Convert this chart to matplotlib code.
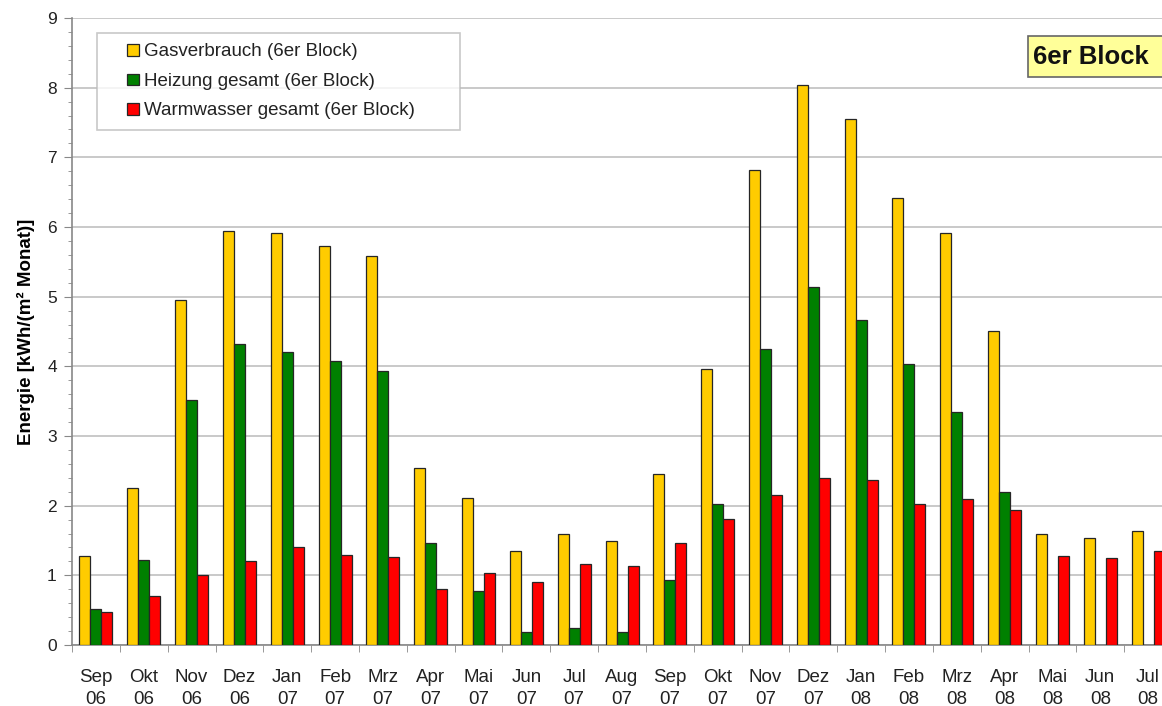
import numpy as np
import matplotlib
matplotlib.use("Agg")
import matplotlib.pyplot as plt
from matplotlib.patches import Rectangle
from matplotlib.container import BarContainer
from matplotlib.legend_handler import HandlerPatch
from matplotlib.ticker import MultipleLocator, FixedLocator

# ===============================
# Daten
# ===============================
monate = ["Sep\n06", "Okt\n06", "Nov\n06", "Dez\n06", "Jan\n07", "Feb\n07",
          "Mrz\n07", "Apr\n07", "Mai\n07", "Jun\n07", "Jul\n07", "Aug\n07",
          "Sep\n07", "Okt\n07", "Nov\n07", "Dez\n07", "Jan\n08", "Feb\n08",
          "Mrz\n08", "Apr\n08", "Mai\n08", "Jun\n08", "Jul\n08"]

gasverbrauch = [1.28, 2.26, 4.95, 5.94, 5.91, 5.73, 5.59, 2.54, 2.11, 1.35,
                1.60, 1.49, 2.45, 3.96, 6.82, 8.04, 7.55, 6.42, 5.91, 4.51,
                1.59, 1.53, 1.63]

heizung = [0.52, 1.22, 3.52, 4.32, 4.20, 4.08, 3.93, 1.46, 0.77, 0.18,
           0.24, 0.18, 0.93, 2.02, 4.25, 5.14, 4.66, 4.04, 3.34, 2.19,
           0.0, 0.0, 0.0]

warmwasser = [0.47, 0.71, 1.00, 1.21, 1.41, 1.29, 1.27, 0.80, 1.04, 0.91,
              1.16, 1.13, 1.46, 1.81, 2.15, 2.40, 2.37, 2.02, 2.09, 1.94,
              1.28, 1.25, 1.35]

serien = ["Gasverbrauch (6er Block)", "Heizung gesamt (6er Block)",
          "Warmwasser gesamt (6er Block)"]
farben = ["#FFCC00", "#008000", "#FF0000"]

plt.rcParams["font.family"] = ["Liberation Sans", "DejaVu Sans"]


# kleines Quadrat rechts im Legendenfeld (Excel-Stil)
def quadrat(legend, orig_handle, xdescent, ydescent, width, height, fontsize):
    s = 0.62 * fontsize
    return Rectangle((-xdescent + width - s, -ydescent + (height - s) / 2), s, s)


def erstes_element(handle, orig):
    handle.update_from(orig[0])


# ===============================
# Grafik
# ===============================
fig = plt.figure(figsize=(11.62, 7.06), dpi=100)
ax = fig.add_axes([0.062, 0.0864, 1.0086 - 0.062, 0.9745 - 0.0864])

x = np.arange(len(monate))
breite = 0.23
for i, (werte, name, farbe) in enumerate(zip([gasverbrauch, heizung, warmwasser],
                                              serien, farben)):
    ax.bar(x + (i - 1) * breite, werte, width=breite, color=farbe,
           edgecolor="#262626", linewidth=0.9, label=name, zorder=3)

ax.set_xlim(-0.5, len(monate) - 0.5)
ax.set_ylim(0, 9)

ax.yaxis.set_major_locator(MultipleLocator(1))
ax.yaxis.set_minor_locator(MultipleLocator(0.2))
ax.grid(axis="y", which="major", color="#c0c0c0", linewidth=1.2, zorder=0)

ax.set_xticks(x)
ax.set_xticklabels(monate, fontsize=13.5, color="#222222", linespacing=1.4)
ax.xaxis.set_minor_locator(FixedLocator(np.arange(-0.5, len(monate), 1)))
ax.tick_params(axis="x", which="major", length=0, pad=17)
ax.tick_params(axis="x", which="minor", length=5, color="#888888")
ax.tick_params(axis="y", which="major", length=6, color="#888888",
               labelsize=12.5, pad=5, labelcolor="#222222")
ax.tick_params(axis="y", which="minor", length=3, color="#888888")

for s in ["top", "right"]:
    ax.spines[s].set_visible(False)
for s in ["left", "bottom"]:
    ax.spines[s].set_color("#888888")
    ax.spines[s].set_linewidth(1.2)

ax.set_ylabel("Energie [kWh/(m² Monat)]", fontsize=13.5, fontweight="bold",
              labelpad=9)

leg = ax.legend(loc="upper left", bbox_to_anchor=(0.0227, 0.976, 0.33, 0.0),
                mode="expand", fontsize=13.5, frameon=True, fancybox=False,
                handlelength=1.68, handleheight=0.7, handletextpad=0.3,
                borderpad=0.55, labelspacing=0.66, borderaxespad=0,
                handler_map={BarContainer: HandlerPatch(patch_func=quadrat,
                                                        update_func=erstes_element)})
leg.get_frame().set_edgecolor("#bbbbbb")
leg.get_frame().set_linewidth(1.2)
for t in leg.get_texts():
    t.set_color("#222222")

# Kennzeichnung oben rechts
ax.add_patch(Rectangle((0.869, 0.906), 0.15, 0.0654, transform=ax.transAxes,
                       facecolor="#FFFF99", edgecolor="#666666", linewidth=1.2,
                       zorder=5, clip_on=False))
ax.text(0.8736, 0.9386, "6er Block", transform=ax.transAxes, fontsize=18.5,
        fontweight="bold", va="center", ha="left", color="#111111", zorder=6)

fig.savefig("out.png", dpi=100)
